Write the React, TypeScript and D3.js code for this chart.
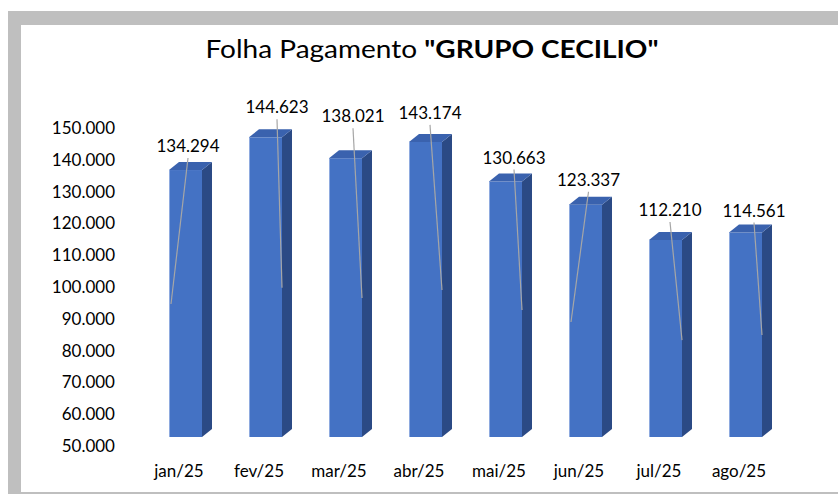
import React from "react";
import * as d3 from "d3";

const categories = ["jan/25", "fev/25", "mar/25", "abr/25", "mai/25", "jun/25", "jul/25", "ago/25"];
const values = [134294, 144623, 138021, 143174, 130663, 123337, 112210, 114561];
const yTicks = [50000, 60000, 70000, 80000, 90000, 100000, 110000, 120000, 130000, 140000, 150000];
// value at which each label's leader line ends
const leaderValues = [92000, 97100, 93900, 96400, 90100, 86300, 80600, 82200];
// which edge of the front face the leader lands on
const leaderSide = ["L", "R", "R", "R", "R", "L", "R", "R"];

// manual label layout (px offsets from front-face centre / top)
const labelDx = [2.5, 11.5, 7.5, 4.5, 8.5, 3, 4.5, 8.5];
const labelDy = [18, 24, 36, 23, 18, 19, 24, 16];

const W = 838;
const H = 494;
const FONT = "Lato, 'Open Sans', sans-serif";

const loc = d3.formatLocale({ decimal: ",", thousands: ".", grouping: [3], currency: ["R$", ""] });
const fmt = loc.format(",.0f");

export default function App() {
  const x = d3.scaleBand<string>().domain(categories).range([149, 789]).padding(0);
  const step = x.step();
  const frontW = step * 0.4125;
  const y = d3.scaleLinear().domain([50000, 150000]).range([437, 120.3]);
  const yLab = d3.scaleLinear().domain([50000, 150000]).range([446, 128]);
  const dx = 10;
  const dy = 8;
  const titleX = 432;

  return (
    <svg width={W} height={H} style={{ position: "absolute", left: 0, top: 0 }} fontFamily={FONT}>
      <rect x={8} y={11} width={W - 8} height={H - 11} fill="#bfbfbf" />
      <rect x={21} y={25} width={W - 21} height={492 - 25} fill="#ffffff" />

      <g transform={`translate(${titleX},58) scale(1.12,1)`}>
        <text x={0} y={0} textAnchor="middle" fontSize={25} fill="#000">
          <tspan>Folha Pagamento </tspan>
          <tspan fontWeight="bold">"GRUPO CECILIO"</tspan>
        </text>
      </g>

      {yTicks.map((t) => (
        <text key={t} x={115} y={yLab(t)} dy="0.35em" textAnchor="end" fontSize={17} fill="#000">
          {fmt(t)}
        </text>
      ))}

      {categories.map((c, i) => {
        const fl = (x(c) as number) + step * 0.25;
        const fr = fl + frontW;
        const top = y(values[i]);
        const bot = y(50000);
        const topFace = `M${fl},${top}L${fl + dx},${top - dy}L${fr + dx},${top - dy}L${fr},${top}Z`;
        const side = `M${fr},${top}L${fr + dx},${top - dy}L${fr + dx},${bot - dy}L${fr},${bot}Z`;
        const cx = (fl + fr) / 2;
        const lx = cx + labelDx[i];
        const ly = top - labelDy[i];
        const ex = leaderSide[i] === "L" ? fl + 2 : fr;
        const ey = y(leaderValues[i]);
        return (
          <g key={c}>
            <rect x={fl} y={top} width={frontW} height={bot - top} fill="#4472c4" />
            <line x1={fl + 0.5} x2={fl + 0.5} y1={top} y2={bot} stroke="#8eaadf" strokeWidth={1} />
            <path d={side} fill="#2b4a85" />
            <path d={topFace} fill="#3a62ae" />
            <line x1={lx} y1={ly + 6} x2={ex} y2={ey} stroke="#a6a6a6" strokeWidth={1.2} />
            <text x={lx} y={ly} textAnchor="middle" fontSize={17} fill="#000">
              {fmt(values[i])}
            </text>
            <text x={fl + 10} y={477} textAnchor="middle" fontSize={17} fill="#000">
              {c}
            </text>
          </g>
        );
      })}
    </svg>
  );
}
